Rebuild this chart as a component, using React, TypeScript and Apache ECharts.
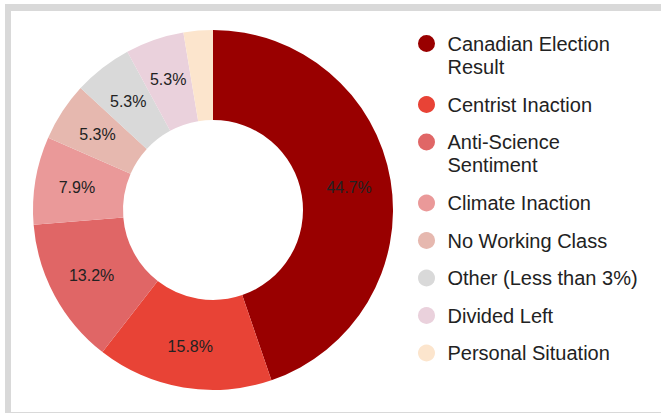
import React, { useEffect, useRef } from "react";
import * as echarts from "echarts";

const categories = [
  "Canadian Election Result",
  "Centrist Inaction",
  "Anti-Science Sentiment",
  "Climate Inaction",
  "No Working Class",
  "Other (Less than 3%)",
  "Divided Left",
  "Personal Situation",
];
const counts = [17, 6, 5, 3, 2, 2, 2, 1];
const colors = ["#990000", "#e84336", "#e06666", "#ea9999", "#e6b8af", "#d9d9d9", "#ead1dc", "#fce5cd"];
const wrappedNames = ["Canadian Election Result", "Anti-Science Sentiment"];

const FONT = "'Liberation Sans', Arial, Helvetica, sans-serif";
// circle placed at the top of a taller box, so the icon lines up with the first text line
const TOP_CIRCLE = "path://M0 8.5A8.5 8.5 0 1 1 17 8.5A8.5 8.5 0 1 1 0 8.5ZM8.5 40L8.51 40Z";

export default function App() {
  const ref = useRef<HTMLDivElement>(null);
  useEffect(() => {
    if (!ref.current) return;
    const chart = echarts.init(ref.current, undefined, { renderer: "svg" });
    const legendText = {
      color: "#222222",
      fontSize: 20,
      fontFamily: FONT,
      width: 205,
      overflow: "break",
      lineHeight: 23,
    };
    let c = 38.5;
    const legends = categories.map((name) => {
      const two = wrappedNames.includes(name);
      const lg = {
        orient: "vertical",
        left: 413,
        top: c - 11.5,
        itemWidth: 32,
        itemHeight: two ? 40 : 17,
        icon: two ? TOP_CIRCLE : "circle",
        textStyle: legendText,
        data: [name],
      };
      c += 37.5 + (two ? 23.5 : 0);
      return lg;
    });
    chart.setOption({
      animation: false,
      color: colors,
      legend: legends,
      series: [
        {
          type: "pie",
          center: [213, 210],
          radius: [90, 180],
          startAngle: 90,
          clockwise: true,
          avoidLabelOverlap: false,
          label: {
            show: true,
            position: "inside",
            color: "#222222",
            fontSize: 16,
            fontFamily: FONT,
            formatter: (p: any) => (p.percent < 3 ? "" : p.percent.toFixed(1) + "%"),
          },
          labelLine: { show: false },
          emphasis: { scale: false },
          itemStyle: { borderWidth: 0 },
          data: categories.map((name, i) => ({ name, value: counts[i] })),
        },
      ],
    });
    return () => chart.dispose();
  }, []);
  return (
    <div style={{ position: "absolute", left: 0, top: 0, width: 661, height: 413, background: "#ffffff" }}>
      <div
        style={{
          position: "absolute",
          left: 5,
          top: 4,
          width: 656,
          height: 409,
          boxSizing: "border-box",
          borderTop: "7px solid #d9d9d9",
          borderLeft: "6px solid #d9d9d9",
          borderBottom: "1px solid #d9d9d9",
        }}
      />
      <div ref={ref} style={{ position: "absolute", left: 0, top: 0, width: 661, height: 413 }} />
    </div>
  );
}
